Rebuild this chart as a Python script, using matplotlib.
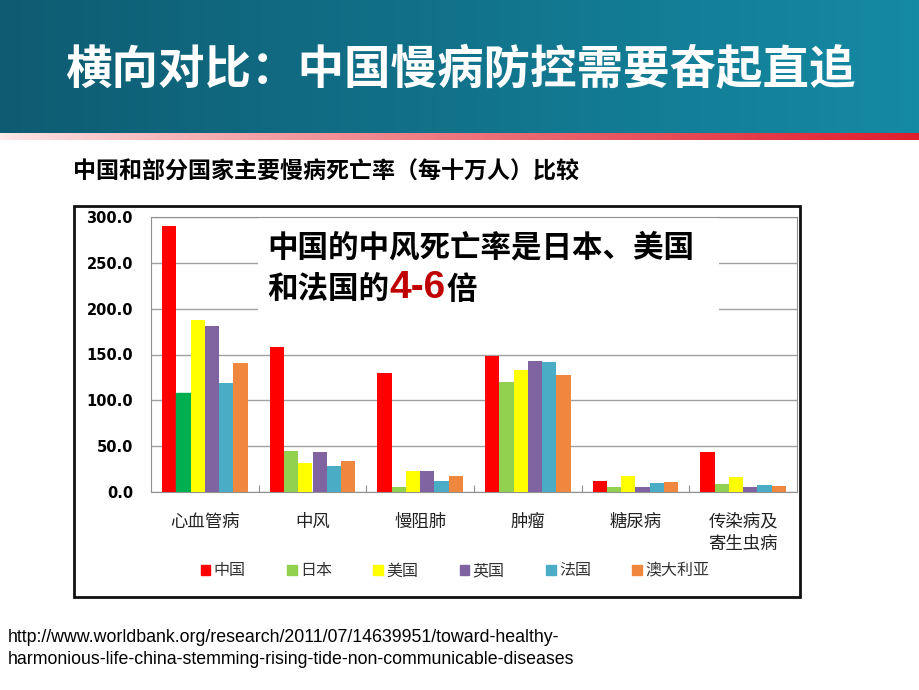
import numpy as np
import matplotlib
matplotlib.use("Agg")
import matplotlib.pyplot as plt
from matplotlib.patches import Rectangle, Patch

plt.rcParams['font.family'] = ['Noto Sans CJK SC', 'DejaVu Sans']

# ---------------------------------------------------------------------------
# data (deaths per 100k)
# ---------------------------------------------------------------------------
categories = ["心血管病", "中风", "慢阻肺", "肿瘤", "糖尿病", "传染病及\n寄生虫病"]
countries = ["中国", "日本", "美国", "英国", "法国", "澳大利亚"]
china = [290, 158.5, 130, 148, 12, 43.5]
japan = [108, 45, 5, 119.5, 5.5, 8.5]
usa = [187.5, 32, 23, 133, 18, 16.5]
uk = [181.5, 43.5, 23, 143, 6, 5]
france = [118.5, 28.5, 12.5, 141.5, 10, 7.5]
australia = [140.5, 34, 17, 127.5, 11, 6.5]
yticks = [0, 50, 100, 150, 200, 250, 300]

series = [china, japan, usa, uk, france, australia]
colors = ["#FF0000", "#92D050", "#FFFF00", "#8064A2", "#4BACC6", "#F0873E"]

W, H = 920, 690


def fx(px):
    return px / W


def fy(py):
    return 1 - py / H


fig = plt.figure(figsize=(9.2, 6.9), dpi=100)
fig.patch.set_facecolor("white")

# header band with teal gradient
hdr = fig.add_axes([0, fy(133), 1, 133 / H])
grad = np.linspace(0, 1, 256)
left = np.array([0x0E, 0x5C, 0x72]) / 255
right = np.array([0x15, 0x8A, 0xA4]) / 255
img = left[None, :] + (right - left)[None, :] * grad[:, None]
hdr.imshow(img[None, :, :], aspect="auto", extent=[0, 1, 0, 1])
hdr.set_axis_off()

strip = fig.add_axes([0, fy(140), 1, 7 / H])
s_left = np.array([1.0, 0.92, 0.92])
s_right = np.array([0xE0, 0x1E, 0x2C]) / 255
simg = s_left[None, :] + (s_right - s_left)[None, :] * (grad[:, None] ** 0.8)
strip.imshow(simg[None, :, :], aspect="auto", extent=[0, 1, 0, 1])
strip.set_axis_off()

fig.text(fx(460), fy(70), "横向对比：中国慢病防控需要奋起直追", color="white",
         fontsize=33.5, fontweight="bold", ha="center", va="center")
fig.text(fx(73), fy(172), "中国和部分国家主要慢病死亡率（每十万人）比较",
         fontsize=16.6, fontweight="bold", ha="left", va="center")

# outer chart frame
fig.add_artist(Rectangle((fx(74), fy(597)), fx(800) - fx(74), fy(206) - fy(597),
                         transform=fig.transFigure, fill=False, ec="#111111", lw=2))

ax = fig.add_axes([fx(151), fy(492), fx(797) - fx(151), fy(217) - fy(492)])
x = np.arange(len(categories))
bw = 0.133
for i, (vals, c) in enumerate(zip(series, colors)):
    bars = ax.bar(x + (i - 2.5) * bw, vals, bw, color=c, zorder=3)
    if i == 1:
        bars[0].set_color("#00B050")  # first Japan bar is darker on the slide

ax.set_xlim(-0.5, len(categories) - 0.5)
ax.set_ylim(0, 300)
ax.set_yticks(yticks)
ax.set_yticklabels([f"{v:.1f}" for v in yticks], fontsize=10.5, fontweight="bold",
                   family="DejaVu Sans")
ax.tick_params(axis="y", length=0, pad=13)
ax.yaxis.grid(True, color="#A0A0A0", lw=1, zorder=0)

ax.set_xticks(np.arange(0.5, len(categories) - 0.5, 1))
ax.set_xticklabels([])
ax.tick_params(axis="x", which="major", direction="in", length=5, color="#909090")
ax.set_xticks(x, minor=True)
ax.set_xticklabels(categories, minor=True, fontsize=12.5, color="#222222",
                   linespacing=1.3)
ax.tick_params(axis="x", which="minor", length=0, pad=15)
for sp in ax.spines.values():
    sp.set_color("#909090")

# callout box over the grid
ax.add_patch(Rectangle((fx(258), fy(312)), fx(719) - fx(258), fy(217) - fy(312),
                       transform=fig.transFigure, fc="white", ec="none", zorder=2))
fig.text(fx(267), fy(247), "中国的中风死亡率是日本、美国", fontsize=22,
         fontweight="bold", ha="left", va="center")
renderer = fig.canvas.get_renderer()
t1 = fig.text(fx(267), fy(290), "和法国的", fontsize=22, fontweight="bold",
              ha="left", va="center")
bb = t1.get_window_extent(renderer)
t2 = fig.text(bb.x1 / W, fy(288), "4-6", fontsize=28, fontweight="bold",
              color="#C00000", ha="left", va="center", family="Liberation Sans")
bb2 = t2.get_window_extent(renderer)
fig.text(bb2.x1 / W + 0.001, fy(290), "倍", fontsize=22, fontweight="bold",
         ha="left", va="center")

handles = [Patch(color=c) for c in colors]
fig.legend(handles, countries, loc="center", bbox_to_anchor=(fx(455), fy(571)),
           ncol=6, frameon=False, fontsize=11.5, handlelength=0.6,
           handleheight=0.6, handletextpad=0.2, columnspacing=2.6,
           labelcolor="#333333")

fig.text(fx(8), fy(637), "http://www.worldbank.org/research/2011/07/14639951/toward-healthy-",
         fontsize=12.8, family="Liberation Sans", ha="left", va="center")
fig.text(fx(8), fy(660), "harmonious-life-china-stemming-rising-tide-non-communicable-diseases",
         fontsize=12.8, family="Liberation Sans", ha="left", va="center")

fig.savefig("out.png", dpi=100)
